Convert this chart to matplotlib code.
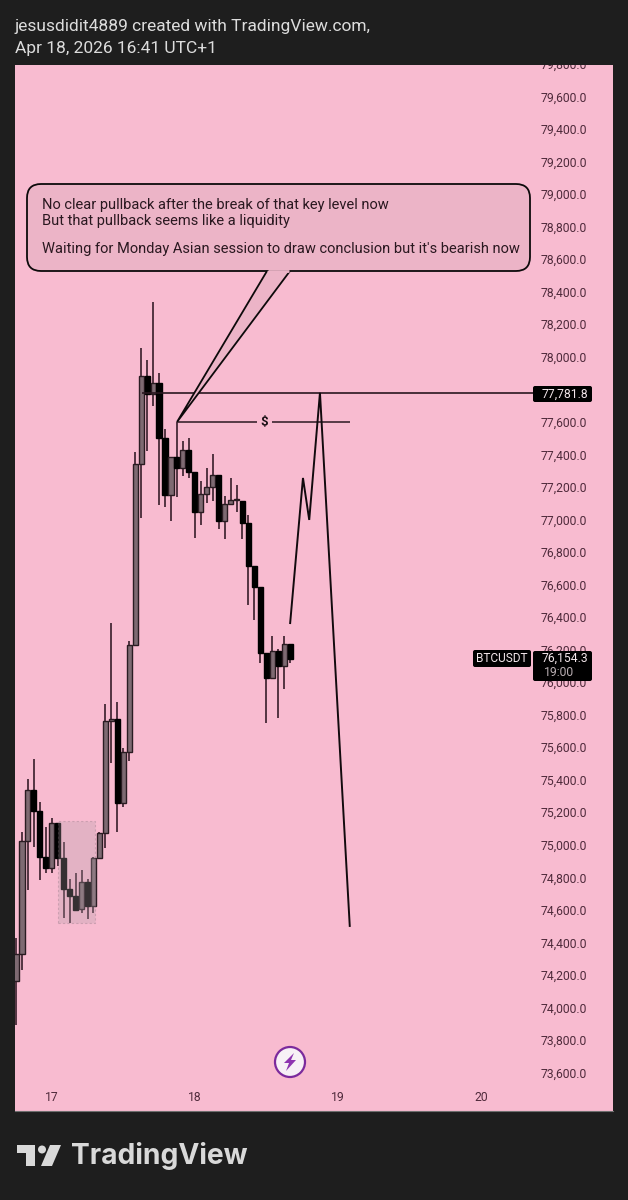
"""BTCUSDT hourly candles with a hand drawn projection, TradingView snapshot style."""

import matplotlib
matplotlib.use("Agg")
import matplotlib.pyplot as plt
from matplotlib.patches import Circle, FancyBboxPatch, Polygon, Rectangle
from matplotlib.transforms import ScaledTranslation

W, H = 628, 1200
DARK = "#1e1e1e"
PINK = "#f8bbd0"
INK = "#4f2a3b"

opens = [74166, 74332, 75026, 75340, 75211, 74928, 74860, 75137, 74922, 74731, 74688, 74608,
         74774, 74627, 74922, 75075, 75764, 75776, 75260, 75573, 76231, 77344, 77885, 77774,
         77842, 77504, 77153, 77387, 77319, 77430, 77295, 77049, 77159, 77202, 77276, 76993,
         77098, 77122, 77116, 76981, 76717, 76588, 76182, 76028, 76194, 76102, 76237]
highs = [74432, 75082, 75407, 75530, 75266, 75112, 75168, 75137, 75020, 74793, 74830, 74848,
         74793, 74928, 75082, 75868, 76366, 75881, 75598, 76256, 77418, 78057, 77983, 78340,
         77903, 77559, 77387, 77602, 77485, 77504, 77295, 77239, 77319, 77405, 77276, 77147,
         77258, 77215, 77116, 77030, 76717, 76588, 76182, 76286, 76207, 76286, 76237]
lows = [73895, 74233, 74725, 74989, 74786, 74830, 74830, 74873, 74553, 74522, 74596, 74584,
        74547, 74584, 74922, 74983, 75506, 75082, 75235, 75518, 76231, 77012, 77424, 77700,
        77092, 77080, 76993, 77141, 77270, 77258, 76889, 76969, 77104, 77116, 76944, 76883,
        77098, 77049, 76883, 76477, 76385, 76120, 75752, 76028, 75782, 75961, 76120]
closes = [74332, 75026, 75340, 75211, 74928, 74860, 75137, 74922, 74731, 74688, 74602, 74774,
          74627, 74922, 75075, 75764, 75776, 75260, 75573, 76231, 77344, 77885, 77774, 77842,
          77504, 77153, 77387, 77319, 77430, 77295, 77049, 77159, 77202, 77276, 76993, 77098,
          77122, 77128, 76981, 76717, 76588, 76182, 76028, 76194, 76102, 76237, 76145]

# 77,800 is hidden by the key level label on the scale
price_ticks = [73600 + 200 * i for i in range(32) if 73600 + 200 * i != 77800]
day_ticks = [6, 30, 54, 78]
day_labels = ["17", "18", "19", "20"]

path_x = [46, 48.15, 49.2, 51, 56]
path_y = [76366, 77258, 77000, 77781.8, 74504]
key_level = 77781.8
liquidity_level = 77602
zone_x = [7.05, 13.25]
zone_y = [74522, 75149]

last_price = 76154.3

header = ["jesusdidit4889 created with TradingView.com,", "Apr 18, 2026 16:41 UTC+1"]
note = [
    "No clear pullback after the break of that key level now",
    "But that pullback seems like a liquidity",
    "Waiting for Monday Asian session to draw conclusion but it's bearish now",
]

plt.rcParams["font.family"] = ["Roboto", "DejaVu Sans"]

fig = plt.figure(figsize=(W / 100, H / 100), dpi=100, facecolor=DARK)
ax = fig.add_axes([15 / W, 1 - 1111 / H, 598 / W, 1046 / H], facecolor=PINK)
ax.set_xlim(-0.168, 100.17)
ax.set_ylim(73366.4, 79796.7)
ax.set_xticks([])
ax.set_yticks([])
for side, spine in ax.spines.items():
    spine.set_visible(side == "bottom")
    spine.set_color("#6e6e6e")
    spine.set_linewidth(0.8)

# overlay in plain screen pixels (y going down), same size as the figure
ov = fig.add_axes([0, 0, 1, 1], facecolor="none")
ov.set_xlim(0, W)
ov.set_ylim(H, 0)
ov.axis("off")

# price scale and dates, one pixel lower than the plain transforms
nudge = ScaledTranslation(0, -1 / 100, fig.dpi_scale_trans)
tick_trans = ax.get_yaxis_transform() + nudge
for p in price_ticks:
    ax.text(0.9565, p, f"{p:,.1f}", transform=tick_trans, ha="right", va="center",
            fontsize=8.7, color=INK, clip_on=True, zorder=1)
day_trans = ax.get_xaxis_transform() + nudge
for d, lab in zip(day_ticks, day_labels):
    ax.text(d, 0.0134, lab, transform=day_trans, ha="center", va="center",
            fontsize=8.7, color=INK)

# candles
idx = list(range(len(opens)))
ax.vlines(idx, lows, highs, color="#3f2430", lw=1.25, zorder=3)
for i, o, c in zip(idx, opens, closes):
    up = c >= o
    ax.bar(i, abs(c - o), bottom=min(o, c), width=0.86,
           color="#7e6a72" if up else "#000000",
           edgecolor="#2a1c22" if up else "#000000", lw=1.0, zorder=4)

ax.add_patch(Rectangle((zone_x[0], zone_y[0]), zone_x[1] - zone_x[0], zone_y[1] - zone_y[0],
                       facecolor="#b4a0aa", alpha=0.3, edgecolor="#7d6a74",
                       ls=(0, (2, 2)), lw=0.8, zorder=5))

# drawings
ax.hlines(key_level, 21.1, 86.7, color="#2a1720", lw=1.2, zorder=5)
ax.hlines(liquidity_level, 27.1, 40.5, color="#2a1720", lw=1.1, zorder=5)
ax.hlines(liquidity_level, 43.0, 56.0, color="#2a1720", lw=1.1, zorder=5)
ax.text(41.7, liquidity_level, "$", ha="center", va="center", fontsize=9.5,
        fontweight="bold", color="#1a1015", zorder=6)
ax.plot(path_x, path_y, color="#120a0e", lw=1.4, solid_joinstyle="miter", zorder=6)

# callout
ov.add_patch(FancyBboxPatch((27, 184), 503, 87, boxstyle="round,pad=0,rounding_size=14",
                            facecolor="#ecb4c7", edgecolor="#0d0a0b", lw=1.3, zorder=6))
ov.add_patch(Polygon([(267, 271), (177, 422), (290, 271)], closed=False,
                     facecolor="#ecb4c7", edgecolor="#0d0a0b", lw=1.3, zorder=7))
ov.plot([268, 289], [271, 271], color="#ecb4c7", lw=2, zorder=7.5, solid_capstyle="butt")
for txt, y in zip(note, [205.5, 220.5, 249.5]):
    ov.text(42, y, txt, ha="left", va="center", fontsize=10.5, color="#2a1820", zorder=8)

# price labels
ov.add_patch(FancyBboxPatch((533, 386), 59, 16, boxstyle="round,pad=0,rounding_size=2",
                            facecolor="#000000", edgecolor="none", zorder=8))
ov.text(588, 394.5, f"{key_level:,.1f}", ha="right", va="center", fontsize=8.7,
        color="#f2e6ea", zorder=9)
ov.add_patch(FancyBboxPatch((473, 650), 58, 17, boxstyle="round,pad=0,rounding_size=2",
                            facecolor="#000000", edgecolor="none", zorder=8))
ov.text(502, 658.5, "BTCUSDT", ha="center", va="center", fontsize=8.6,
        color="#f2e6ea", zorder=9)
ov.add_patch(FancyBboxPatch((533, 651), 59, 30, boxstyle="round,pad=0,rounding_size=2",
                            facecolor="#000000", edgecolor="none", zorder=8))
ov.text(588, 658, f"{last_price:,.1f}", ha="right", va="center", fontsize=8.7,
        color="#f2e6ea", zorder=9)
ov.text(544, 672, "19:00", ha="left", va="center", fontsize=8.7, color="#b9aeb2", zorder=9)

# lightning badge
ov.add_patch(Circle((290, 1062), 15, facecolor="#f7f1f6", edgecolor="#7b2a9c", lw=1.6, zorder=8))
ov.add_patch(Polygon([(294, 1053), (284, 1063), (289, 1063), (286, 1071), (296, 1060), (291, 1060)],
                     closed=True, facecolor="#8e35b0", edgecolor="none", zorder=9))

# header
for txt, y in zip(header, [26, 49]):
    ov.text(15, y, txt, ha="left", va="center", fontsize=12.5, color="#dcdcdc")

# TradingView logo
LOGO = "#d9d9d9"
ov.add_patch(Polygon([(17, 1145), (35, 1145), (35, 1166), (26, 1166), (26, 1153), (17, 1153)],
                     closed=True, facecolor=LOGO, edgecolor="none"))
ov.add_patch(Circle((42, 1149.5), 4, facecolor=LOGO, edgecolor="none"))
ov.add_patch(Polygon([(50, 1145), (61, 1145), (52, 1166), (41, 1166)],
                     closed=True, facecolor=LOGO, edgecolor="none"))
ov.text(70.5, 1156, "TradingView", ha="left", va="center", fontsize=20.3,
        fontweight="bold", color=LOGO, family=["Inter", "DejaVu Sans"])

fig.savefig("out.png", dpi=100, facecolor=DARK)
